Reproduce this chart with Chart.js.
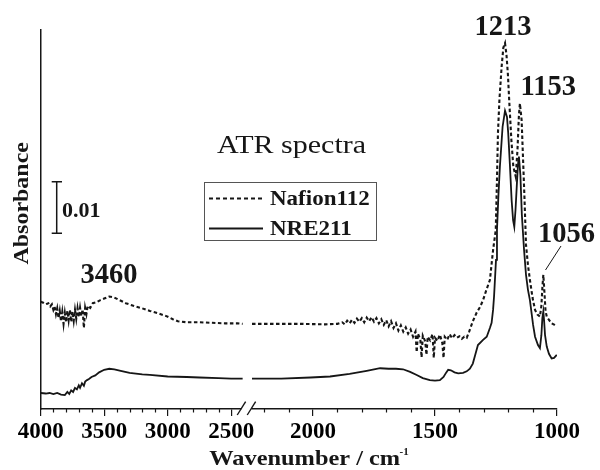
<!DOCTYPE html>
<html>
<head>
<meta charset="utf-8">
<script src="https://cdn.jsdelivr.net/npm/chart.js@4.4.1/dist/chart.umd.min.js"></script>
<style>
  html, body { margin: 0; padding: 0; background: #fff; }
  #wrap { width: 600px; height: 470px; }
  .probe { position: absolute; left: -999px; top: 0; font-family: 'Liberation Serif'; }
</style>
</head>
<body>
<span class="probe">a</span><span class="probe" style="font-weight:bold">b</span>
<div id="wrap"><canvas id="atr"></canvas></div>
<script>
// ATR spectra, wavenumber (cm-1) vs absorbance; null = axis break
const nafionWn = [4000,3980,3960,3940,3925,3912,3900,3890,3880,3870,3860,3850,3840,3830,3820,3810,3800,3790,3780,3770,3760,3750,3740,3730,3720,3710,3700,3690,3680,3670,3660,3650,3640,3630,3610,3590,3560,3530,3500,3460,3420,3380,3330,3270,3200,3140,3070,3010,2960,2920,2850,2750,2650,2550,2450,2410,
  2380,
  2250,2150,2050,1950,1900,1880,1870,1860,1850,1840,1830,1820,1810,1800,1790,1780,1770,1760,1750,1740,1730,1720,1710,1700,1690,1680,1670,1660,1650,1640,1630,1620,1610,1600,1590,1580,1575,1570,1560,1555,1550,1540,1535,1530,1520,1510,1505,1500,1490,1480,1470,1465,1460,1450,1440,1430,1420,1410,1400,1390,1380,1370,1360,1345,1330,1315,1303,1290,1275,1262,1251,1246,1242,1236,1227,1220,1213,1207,1201,1196,1187,1179,1169,1162,1156,1152,1145,1138,1133,1127,1119,1111,1100,1090,1080,1070,1064,1060,1056,1052,1047,1042,1032,1022,1010,1001];
const nafionAbs = [0.0208,0.0206,0.0203,0.0205,0.0199,0.0203,0.0192,0.0198,0.0184,0.0195,0.0176,0.0190,0.0170,0.0188,0.0165,0.0186,0.0168,0.0190,0.0172,0.0192,0.0169,0.0189,0.0171,0.0192,0.0175,0.0195,0.0178,0.0196,0.0180,0.0193,0.0157,0.0196,0.0184,0.0200,0.0196,0.0205,0.0207,0.0211,0.0214,0.0218,0.0216,0.0211,0.0205,0.0200,0.0195,0.0190,0.0185,0.0180,0.0174,0.0170,0.0168,0.0168,0.0167,0.0166,0.0166,0.0165,
  null,
  0.0165,0.0165,0.0165,0.0164,0.0165,0.0168,0.0164,0.0171,0.0166,0.0173,0.0167,0.0175,0.0169,0.0176,0.0168,0.0177,0.0170,0.0178,0.0169,0.0176,0.0166,0.0174,0.0163,0.0172,0.0160,0.0170,0.0157,0.0166,0.0152,0.0162,0.0150,0.0158,0.0146,0.0154,0.0140,0.0150,0.0110,0.0146,0.0134,0.0100,0.0142,0.0131,0.0105,0.0140,0.0133,0.0145,0.0099,0.0138,0.0132,0.0144,0.0128,0.0099,0.0140,0.0134,0.0145,0.0137,0.0143,0.0138,0.0141,0.0136,0.0140,0.0138,0.0150,0.0170,0.0186,0.0198,0.0211,0.0230,0.0250,0.0308,0.0347,0.0444,0.0535,0.0599,0.0663,0.0700,0.0709,0.0686,0.0647,0.0599,0.0521,0.0470,0.0450,0.0502,0.0570,0.0592,0.0560,0.0470,0.0405,0.0318,0.0279,0.0250,0.0215,0.0192,0.0183,0.0179,0.0200,0.0235,0.0260,0.0230,0.0190,0.0179,0.0172,0.0166,0.0163,0.0160];

const nreWn = [4000,3960,3930,3900,3870,3840,3810,3790,3775,3760,3745,3730,3715,3700,3690,3675,3660,3650,3635,3620,3600,3570,3540,3500,3460,3420,3370,3300,3200,3140,3000,2850,2750,2600,2500,2410,
  2380,
  2250,2130,2010,1930,1850,1780,1725,1690,1660,1631,1602,1575,1550,1521,1500,1480,1465,1455,1446,1435,1420,1405,1385,1370,1357,1345,1335,1324,1303,1288,1275,1268,1262,1258,1250,1246,1240,1234,1223,1213,1205,1200,1193,1186,1180,1175,1170,1165,1160,1156,1150,1144,1135,1127,1119,1111,1098,1090,1078,1070,1064,1060,1056,1053,1049,1042,1033,1022,1012,1001];
const nreAbs = [0.0031,0.0030,0.0031,0.0029,0.0031,0.0028,0.0027,0.0033,0.0029,0.0036,0.0033,0.0041,0.0038,0.0046,0.0041,0.0050,0.0045,0.0053,0.0056,0.0058,0.0062,0.0065,0.0071,0.0076,0.0078,0.0077,0.0074,0.0070,0.0067,0.0066,0.0063,0.0062,0.0061,0.0060,0.0059,0.0059,
  null,
  0.0059,0.0059,0.0061,0.0063,0.0068,0.0074,0.0079,0.0078,0.0078,0.0077,0.0072,0.0066,0.0060,0.0056,0.0055,0.0056,0.0062,0.0070,0.0076,0.0075,0.0071,0.0069,0.0070,0.0073,0.0078,0.0088,0.0105,0.0124,0.0134,0.0140,0.0157,0.0167,0.0192,0.0218,0.0289,0.0347,0.0415,0.0470,0.0547,0.0578,0.0566,0.0535,0.0473,0.0405,0.0366,0.0353,0.0386,0.0431,0.0473,0.0489,0.0453,0.0376,0.0308,0.0260,0.0231,0.0211,0.0163,0.0140,0.0124,0.0118,0.0143,0.0176,0.0189,0.0172,0.0143,0.0121,0.0107,0.0098,0.0099,0.0105];

const majorTicks = [4000, 3500, 3000, 2500, 2000, 1500, 1000];
const minorTicks = [3900,3800,3700,3600,3400,3300,3200,3100,2900,2800,2700,2600,2200,2100,1900,1800,1700,1600,1400,1300,1200,1100];
const peakLabels = ['3460', '1213', '1153', '1056'];
const seriesNames = ['Nafion112', 'NRE211'];

const ink = '#161616';
const serif = "'Liberation Serif', 'Times New Roman', Times, serif";

// broken axis: 4000-2330 compressed, 2330-1000 expanded
function toU(wn) {
  return wn >= 2330 ? (4000 - wn) * 0.127 : 272.3 + (2000 - wn) * 0.244;
}
function points(wn, abs) {
  return wn.map((w, i) => ({ x: toU(w), y: abs[i] }));
}

function txt(ctx, s, x, y, size, bold, align, sx) {
  ctx.save();
  ctx.font = (bold ? 'bold ' : '') + size + 'px ' + serif;
  ctx.textAlign = align;
  ctx.textBaseline = 'alphabetic';
  ctx.translate(x, y);
  ctx.scale(sx || 1, 1);
  ctx.fillText(s, 0, 0);
  ctx.restore();
}

const decor = {
  id: 'decor',
  afterDraw(chart) {
    const { ctx, chartArea: a, scales: { x, y } } = chart;
    ctx.save();
    ctx.strokeStyle = ink;
    ctx.fillStyle = ink;

    // minor ticks
    ctx.lineWidth = 1.2;
    minorTicks.forEach(w => {
      const px = Math.round(x.getPixelForValue(toU(w))) + 0.5;
      ctx.beginPath();
      ctx.moveTo(px, a.bottom);
      ctx.lineTo(px, a.bottom + 3.5);
      ctx.stroke();
    });

    // axis break marks
    const cx = x.getPixelForValue(toU(2380));
    ctx.fillStyle = '#fff';
    ctx.fillRect(cx - 5, a.bottom - 3, 10, 6);
    ctx.fillStyle = ink;
    ctx.lineWidth = 1.4;
    [-5, 5].forEach(d => {
      ctx.beginPath();
      ctx.moveTo(cx + d - 4.2, a.bottom + 6);
      ctx.lineTo(cx + d + 4.2, a.bottom - 7.3);
      ctx.stroke();
    });

    // 0.01 scale bar
    const barTop = 181.7;
    const barH = y.getPixelForValue(0) - y.getPixelForValue(0.01);
    ctx.lineWidth = 1.5;
    ctx.beginPath();
    ctx.moveTo(56.7, barTop); ctx.lineTo(56.7, barTop + barH);
    ctx.moveTo(51.7, barTop); ctx.lineTo(62, barTop);
    ctx.moveTo(51.7, barTop + barH); ctx.lineTo(62, barTop + barH);
    ctx.stroke();
    txt(ctx, '0.01', 62, 216.5, 22, true, 'left');

    // inner title
    txt(ctx, 'ATR spectra', 291.5, 153, 25, false, 'center', 1.2);

    // legend box
    ctx.strokeStyle = '#555';
    ctx.lineWidth = 1;
    ctx.strokeRect(204.5, 182.5, 172, 58);
    ctx.strokeStyle = ink;
    ctx.lineWidth = 2;
    ctx.setLineDash([4, 3]);
    ctx.beginPath(); ctx.moveTo(209, 198.5); ctx.lineTo(262, 198.5); ctx.stroke();
    ctx.setLineDash([]);
    ctx.beginPath(); ctx.moveTo(209, 228.5); ctx.lineTo(263, 228.5); ctx.stroke();
    txt(ctx, seriesNames[0], 270, 205, 20, true, 'left', 1.15);
    txt(ctx, seriesNames[1], 270, 234.5, 20, true, 'left', 1.15);

    // peak labels
    txt(ctx, peakLabels[0], 109, 283, 28.5, true, 'center');
    txt(ctx, peakLabels[1], 503, 35, 28.5, true, 'center');
    txt(ctx, peakLabels[2], 548.3, 95, 28.5, true, 'center');
    txt(ctx, peakLabels[3], 566.5, 242, 28.5, true, 'center');
    ctx.lineWidth = 1;
    ctx.beginPath(); ctx.moveTo(561, 246); ctx.lineTo(545.5, 270); ctx.stroke();

    // axis titles
    ctx.save();
    ctx.translate(28.3, 203.3);
    ctx.rotate(-Math.PI / 2);
    txt(ctx, 'Absorbance', 0, 0, 22, true, 'center', 1.09);
    ctx.restore();
    txt(ctx, 'Wavenumber / cm', 209.3, 465, 21, true, 'left', 1.16);
    txt(ctx, '-1', 399.5, 455, 11, true, 'left');

    ctx.restore();
  }
};

function draw() {
  new Chart(document.getElementById('atr').getContext('2d'), {
    type: 'line',
    data: {
      datasets: [
        { label: seriesNames[0], data: points(nafionWn, nafionAbs),
          borderColor: ink, borderWidth: 2.1, borderDash: [3.5, 2.5],
          pointRadius: 0, tension: 0, spanGaps: false, fill: false },
        { label: seriesNames[1], data: points(nreWn, nreAbs),
          borderColor: ink, borderWidth: 1.8,
          pointRadius: 0, tension: 0, spanGaps: false, fill: false }
      ]
    },
    options: {
      responsive: true, maintainAspectRatio: false, animation: false,
      layout: { padding: { left: 40.7, right: 43, top: 29.3, bottom: 0 } },
      plugins: { legend: { display: false }, tooltip: { enabled: false } },
      scales: {
        x: {
          type: 'linear', min: 0, max: toU(1000),
          afterFit: s => { s.height = 61; },
          afterBuildTicks: s => { s.ticks = majorTicks.map(w => ({ value: toU(w) })); },
          grid: { display: true, drawOnChartArea: false, drawTicks: true, tickLength: 7, color: ink, lineWidth: 1.2 },
          border: { display: true, color: ink, width: 1.5 },
          ticks: { autoSkip: false, maxRotation: 0, padding: 2, color: '#000',
            font: { family: serif, size: 23, weight: 'bold' },
            callback: (v, i) => majorTicks[i] }
        },
        y: {
          type: 'linear', min: 0, max: 0.07358,
          afterFit: s => { s.width = 0; },
          grid: { display: false, drawTicks: false },
          border: { display: true, color: ink, width: 1.5 },
          ticks: { display: false }
        }
      }
    },
    plugins: [decor]
  });
}

Promise.all([
  document.fonts.load("23px 'Liberation Serif'"),
  document.fonts.load("bold 23px 'Liberation Serif'")
]).then(draw, draw);
</script>
</body>
</html>
